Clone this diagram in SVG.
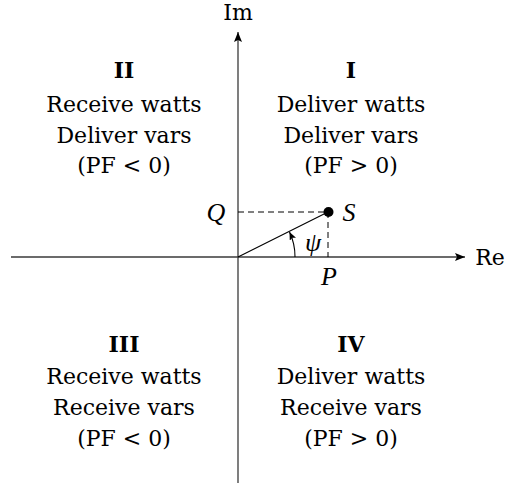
<svg xmlns="http://www.w3.org/2000/svg" width="507" height="487" viewBox="0 0 507 487">
<style>
text{font-family:"DejaVu Serif","Liberation Serif",serif;font-size:22px;fill:#000;text-anchor:middle}
.b{font-weight:bold}
.m{font-style:italic;font-family:"Liberation Serif","DejaVu Serif",serif;font-size:26px}
.ax{stroke:#3a3a3a;stroke-width:1.3;fill:none}
.d{stroke:#000;stroke-width:1;fill:none;stroke-dasharray:6 4}
</style>
<defs>
<marker id="ah" viewBox="0 0 10 8" refX="10" refY="4" markerWidth="10" markerHeight="8" markerUnits="userSpaceOnUse" orient="auto">
<path d="M0,0 L10,4 L0,8 L2,4 Z" fill="#000"/>
</marker>
<marker id="sh" viewBox="0 0 8 7" refX="8" refY="3.5" markerWidth="8" markerHeight="7" markerUnits="userSpaceOnUse" orient="auto">
<path d="M0,0 L8,3.5 L0,7 L1.5,3.5 Z" fill="#000"/>
</marker>
</defs>
<g id="connectors">
<line class="ax" x1="11" y1="257" x2="465" y2="257" marker-end="url(#ah)"/>
<line class="ax" x1="238" y1="483" x2="238" y2="32" marker-end="url(#ah)"/>
<line class="d" x1="238" y1="212" x2="328" y2="212"/>
<line class="d" x1="328" y1="212" x2="328" y2="257"/>
<line x1="238" y1="257" x2="328" y2="212" stroke="#000" stroke-width="1.1"/>
<path d="M295,257 A57,57 0 0 0 289.5,232" stroke="#000" stroke-width="1.1" fill="none" marker-end="url(#sh)"/>
</g>
<g id="axis-labels">
<text x="238" y="20">Im</text>
<text x="490" y="265">Re</text>
</g>
<g id="point-S">
<circle cx="328.5" cy="212" r="5" fill="#000"/>
<text class="m" x="349" y="221">S</text>
</g>
<g id="labels">
<text class="m" x="216" y="221">Q</text>
<text class="m" x="329" y="285">P</text>
<text class="m" x="313" y="251">ψ</text>
</g>
<g id="quadrant-I">
<text class="b" x="351" y="78">I</text>
<text x="351" y="112">Deliver watts</text>
<text x="351" y="143">Deliver vars</text>
<text x="351" y="173">(PF &gt; 0)</text>
</g>
<g id="quadrant-II">
<text class="b" x="124" y="78">II</text>
<text x="124" y="112">Receive watts</text>
<text x="124" y="143">Deliver vars</text>
<text x="124" y="173">(PF &lt; 0)</text>
</g>
<g id="quadrant-III">
<text class="b" x="124" y="352">III</text>
<text x="124" y="384">Receive watts</text>
<text x="124" y="415">Receive vars</text>
<text x="124" y="446">(PF &lt; 0)</text>
</g>
<g id="quadrant-IV">
<text class="b" x="351" y="352">IV</text>
<text x="351" y="384">Deliver watts</text>
<text x="351" y="415">Receive vars</text>
<text x="351" y="446">(PF &gt; 0)</text>
</g>
</svg>
